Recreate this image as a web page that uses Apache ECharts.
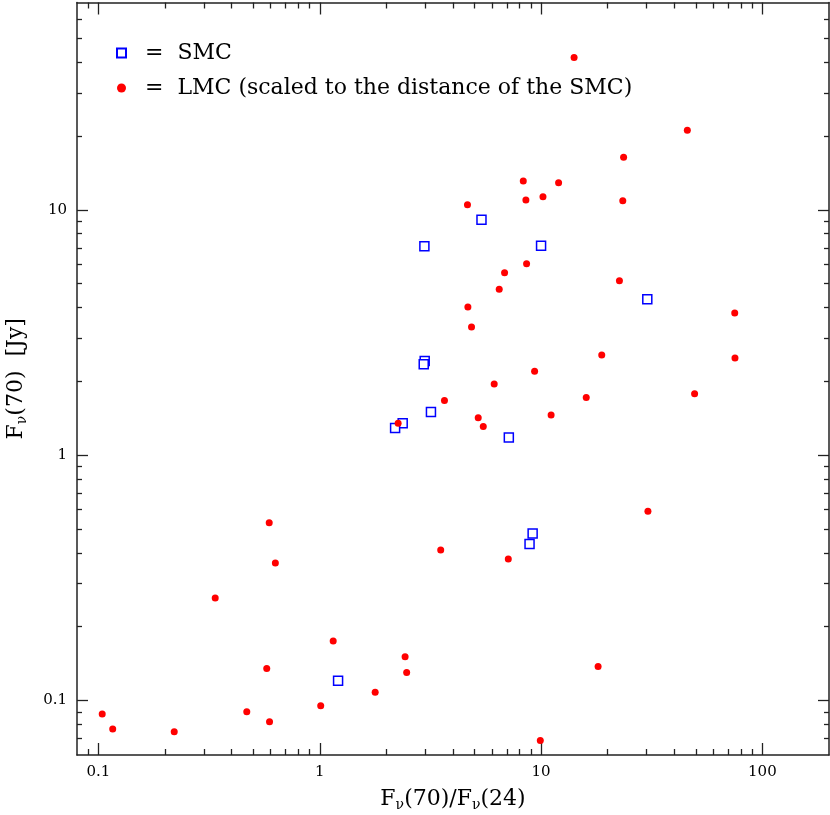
<!DOCTYPE html>
<html>
<head>
<meta charset="utf-8">
<script src="https://cdn.jsdelivr.net/npm/echarts@6/dist/echarts.min.js"></script>
<style>
  html, body { margin: 0; padding: 0; background: #fff; }
  #chart { width: 830px; height: 815px; }
</style>
</head>
<body>
<div id="chart"></div>
<script>
// SMC sources: F70/F24 ratio and F70 flux [Jy]
var smcX = [5.38, 2.97, 10.0, 30.2, 2.98, 2.95, 3.18, 2.37, 2.19, 7.15, 9.16, 8.87, 1.21];
var smcY = [9.12, 7.10, 7.14, 4.32, 2.42, 2.35, 1.50, 1.35, 1.29, 1.18, 0.480, 0.435, 0.1205];

// LMC sources (scaled to SMC distance)
var lmcX = [14.1, 45.8, 23.6, 8.31, 12.0, 10.2, 8.54, 23.4, 4.65, 8.6,
            6.84, 6.47, 22.6, 4.67, 4.85, 75.0, 75.2, 18.8, 9.35, 6.14,
            3.66, 49.4, 16.0, 11.1, 5.20, 5.48, 2.26, 0.591, 0.630, 3.52,
            7.11, 30.4, 0.337, 1.15, 0.576, 2.43, 2.47, 18.1, 1.78, 1.01,
            0.104, 0.116, 0.220, 0.468, 0.593, 9.92];
var lmcY = [41.8, 21.1, 16.4, 13.1, 12.9, 11.3, 10.96, 10.9, 10.5, 6.03,
            5.54, 4.75, 5.14, 4.02, 3.33, 3.80, 2.49, 2.56, 2.20, 1.95,
            1.67, 1.78, 1.72, 1.46, 1.42, 1.31, 1.35, 0.530, 0.364, 0.411,
            0.378, 0.591, 0.262, 0.175, 0.135, 0.151, 0.130, 0.1377, 0.108, 0.0953,
            0.0881, 0.0765, 0.0746, 0.0900, 0.0820, 0.0688];

// tick positions
var xMajor = [0.1, 1, 10, 100];
var xMinor = [0.09, 0.2, 0.3, 0.4, 0.5, 0.6, 0.7, 0.8, 0.9, 2, 3, 4, 5, 6, 7, 8, 9,
              20, 30, 40, 50, 60, 70, 80, 90];
var yMajor = [0.1, 1, 10];
var yMinor = [0.07, 0.08, 0.09, 0.2, 0.3, 0.4, 0.5, 0.6, 0.7, 0.8, 0.9, 2, 3, 4, 5, 6, 7, 8, 9,
              20, 30, 40, 50, 60];

var FONT = 'DejaVu Serif';
var lineCol = '#222';

function pairs (xs, ys) {
    return xs.map(function (x, i) { return [x, ys[i]] })
}

function fmt (v) {
    return String(Number(v.toPrecision(6)))
}

// log axis that only draws ticks (and maybe line / labels)
function logAxis (pos, min, max, ticks, len, withLine, withLabels) {
    return {
        type: 'log',
        position: pos,
        min: min,
        max: max,
        logBase: 10,
        axisLine: { show: withLine, onZero: false, lineStyle: { color: lineCol, width: 1.5 } },
        axisTick: { show: true, inside: true, length: len, customValues: ticks,
            lineStyle: { color: lineCol, width: 1.3 } },
        axisLabel: { show: withLabels, customValues: ticks, formatter: fmt, margin: 10,
            fontFamily: FONT, fontSize: 15, color: '#000' },
        splitLine: { show: false },
        minorTick: { show: false }
    }
}

var titleRich = {
    n: { fontFamily: FONT, fontSize: 22, color: '#000' },
    s: { fontFamily: FONT, fontSize: 14, color: '#000', padding: [11, 0, 0, 0] }
}

var chart = echarts.init(document.getElementById('chart'))

var xAxes = [
    logAxis('bottom', 0.08, 200, xMajor, 12, true, true),
    logAxis('bottom', 0.08, 200, xMinor, 6, false, false),
    logAxis('top', 0.08, 200, xMajor, 12, true, false),
    logAxis('top', 0.08, 200, xMinor, 6, false, false)
]
xAxes[0].name = '{n|F}{s|ν}{n|(70)/F}{s|ν}{n|(24)}'
xAxes[0].nameLocation = 'middle'
xAxes[0].nameGap = 32
xAxes[0].nameTextStyle = { rich: titleRich }

var yAxes = [
    logAxis('left', 0.06, 70, yMajor, 11, true, true),
    logAxis('left', 0.06, 70, yMinor, 5, false, false),
    logAxis('right', 0.06, 70, yMajor, 11, true, false),
    logAxis('right', 0.06, 70, yMinor, 5, false, false)
]
yAxes[0].name = '{n|F}{s|ν}{n|(70)  [Jy]}'
yAxes[0].nameLocation = 'middle'
yAxes[0].nameGap = 48
yAxes[0].nameTextStyle = { rich: titleRich }

var option = {
    animation: false,
    backgroundColor: '#fff',
    grid: { left: 77, right: 1, top: 2.5, bottom: 60, outerBoundsMode: 'none', containLabel: false },
    xAxis: xAxes,
    yAxis: yAxes,
    legend: {
        orient: 'vertical',
        left: 116,
        top: 42,
        padding: 0,
        itemWidth: 9,
        itemHeight: 9,
        itemGap: 13,
        formatter: function (name) { return '=  ' + name },
        textStyle: { fontFamily: FONT, fontSize: 22, color: '#000', padding: [0, 0, 0, 14] },
        data: [
            { name: 'SMC', icon: 'rect' },
            { name: 'LMC (scaled to the distance of the SMC)', icon: 'circle' }
        ]
    },
    series: [{
        name: 'SMC',
        type: 'scatter',
        symbol: 'rect',
        symbolSize: 9,
        itemStyle: { color: '#fff', borderColor: '#0000ff', borderWidth: 1.5, opacity: 1 },
        data: pairs(smcX, smcY)
    }, {
        name: 'LMC (scaled to the distance of the SMC)',
        type: 'scatter',
        symbol: 'circle',
        symbolSize: 7,
        itemStyle: { color: '#ff0000', opacity: 1 },
        data: pairs(lmcX, lmcY)
    }]
}

chart.setOption(option)
</script>
</body>
</html>
